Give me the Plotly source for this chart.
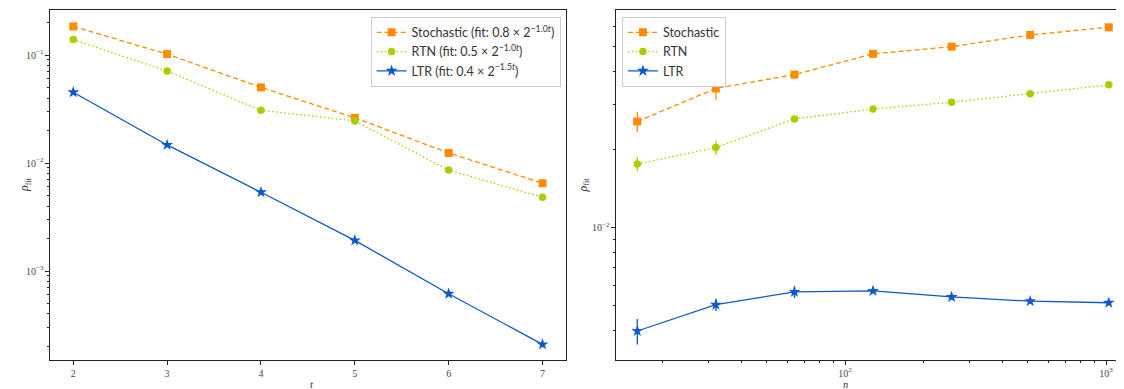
import plotly.graph_objects as go

# ---- data: left panel (vs t) ----
t_vals = [2, 3, 4, 5, 6, 7]
stoch_t = [0.184, 0.102, 0.0502, 0.0262, 0.0124, 0.00650]
rtn_t = [0.139, 0.0711, 0.0308, 0.0245, 0.0086, 0.00481]
ltr_t = [0.0452, 0.0147, 0.00536, 0.00192, 0.000616, 0.000209]

# ---- data: right panel (vs n) ----
n_vals = [16, 32, 64, 128, 256, 512, 1024]
stoch_n = [0.0257, 0.0345, 0.0390, 0.0469, 0.0500, 0.0555, 0.0594]
stoch_n_err = [0.0023, 0.0033, 0.0013, 0.0008, 0.0007, 0.0007, 0.0006]
rtn_n = [0.0176, 0.0204, 0.0263, 0.0287, 0.0305, 0.0329, 0.0356]
rtn_n_err = [0.0011, 0.0013, 0.0005, 0.0004, 0.0004, 0.0004, 0.0004]
ltr_n = [0.00399, 0.00504, 0.00565, 0.00570, 0.00540, 0.00520, 0.00513]
ltr_n_err = [0.00045, 0.00027, 0.00030, 0.00012, 0.00010, 0.00010, 0.00010]

names_left = [
    "Stochastic (fit: 0.8 × 2<sup>−1.0<i>t</i></sup>)",
    "RTN (fit: 0.5 × 2<sup>−1.0<i>t</i></sup>)",
    "LTR (fit: 0.4 × 2<sup>−1.5<i>t</i></sup>)",
]
names_right = ["Stochastic", "RTN", "LTR"]

ORANGE = "#FF8C00"
GREEN = "#A6CE00"
BLUE = "#0A58CA"

styles = [
    dict(color=ORANGE, dash="5px,3px", symbol="square", size=8),
    dict(color=GREEN, dash="1.5px,2.5px", symbol="circle", size=7.5),
    dict(color=BLUE, dash="solid", symbol="star", size=9),
]

fig = go.Figure()

for name, ys, st in zip(names_left, [stoch_t, rtn_t, ltr_t], styles):
    fig.add_trace(go.Scatter(
        x=t_vals, y=ys, name=name, mode="lines+markers",
        line=dict(color=st["color"], dash=st["dash"], width=1.3),
        marker=dict(symbol=st["symbol"], size=st["size"], color=st["color"], line=dict(width=0)),
        xaxis="x", yaxis="y", legend="legend",
    ))

for name, ys, es, st in zip(names_right, [stoch_n, rtn_n, ltr_n],
                            [stoch_n_err, rtn_n_err, ltr_n_err], styles):
    fig.add_trace(go.Scatter(
        x=n_vals, y=ys, name=name, mode="lines+markers",
        line=dict(color=st["color"], dash=st["dash"], width=1.3),
        marker=dict(symbol=st["symbol"], size=st["size"], color=st["color"], line=dict(width=0)),
        error_y=dict(type="data", array=es, visible=True, color=st["color"], thickness=1.3, width=0),
        xaxis="x2", yaxis="y2", legend="legend2",
    ))

SERIF = "Liberation Serif, DejaVu Serif, serif"
SANS = "Lato, Open Sans, sans-serif"
AX = "#222222"

def minor_vals(lo_exp, hi_exp):
    out = []
    for e in range(lo_exp, hi_exp + 1):
        for m in range(2, 10):
            out.append(m * 10.0 ** e)
    return out

common_axis = dict(
    showline=True, linecolor=AX, linewidth=1.2, mirror=True,
    ticks="outside", ticklen=3.5, tickwidth=0.8, tickcolor=AX,
    showgrid=False, zeroline=False,
    tickfont=dict(family=SERIF, size=10, color="#444"),
)

fig.update_layout(
    width=1116, height=381,
    margin=dict(l=42, r=2, t=2, b=29),
    paper_bgcolor="white", plot_bgcolor="white",
    xaxis=dict(domain=[0, 0.4813], range=[1.752, 7.25],
               tickvals=t_vals, ticktext=[str(v) for v in t_vals],
               anchor="y", **common_axis),
    yaxis=dict(type="log", range=[-3.824, -0.583], anchor="x",
               tickvals=[1e-3, 1e-2, 1e-1],
               ticktext=["10<sup>−3</sup>", "10<sup>−2</sup>", "10<sup>−1</sup>"],
               minor=dict(tickvals=minor_vals(-4, -1), ticks="outside", ticklen=2,
                          tickcolor=AX, tickwidth=0.7),
               **common_axis),
    xaxis2=dict(domain=[0.528, 1.0], type="log", range=[1.1226, 3.061], anchor="y2",
                tickvals=[100, 1000],
                ticktext=["10<sup>2</sup>", "10<sup>3</sup>"],
                minor=dict(tickvals=minor_vals(1, 2), ticks="outside", ticklen=2,
                           tickcolor=AX, tickwidth=0.7),
                **common_axis),
    yaxis2=dict(type="log", range=[-2.511, -1.1595], anchor="x2",
                tickvals=[1e-2], ticktext=["10<sup>−2</sup>"],
                minor=dict(tickvals=minor_vals(-3, -2), ticks="outside", ticklen=2,
                           tickcolor=AX, tickwidth=0.7),
                **common_axis),
    legend=dict(x=0.4813 - 0.005, xanchor="right", y=0.981, yanchor="top",
                bgcolor="white", bordercolor="#cccccc", borderwidth=1,
                font=dict(family=SANS, size=12.5, color="#333"),
                itemwidth=30, tracegroupgap=0),
    legend2=dict(x=0.5335, xanchor="left", y=0.981, yanchor="top",
                 bgcolor="white", bordercolor="#cccccc", borderwidth=1,
                 font=dict(family=SANS, size=12.5, color="#333"),
                 itemwidth=30, tracegroupgap=0),
    showlegend=True,
)

# axis titles
fig.add_annotation(text="<i>ρ</i><sub>fit</sub>", xref="paper", yref="paper",
                   x=-0.0326, y=0.5, textangle=-90, showarrow=False,
                   font=dict(family=SERIF, size=12, color="#333"))
fig.add_annotation(text="<i>ρ</i><sub>fit</sub>", xref="paper", yref="paper",
                   x=0.4977, y=0.5, textangle=-90, showarrow=False,
                   font=dict(family=SERIF, size=12, color="#333"))
fig.add_annotation(text="<i>t</i>", xref="paper", yref="paper",
                   x=0.2406, y=-0.069, yanchor="middle", showarrow=False,
                   font=dict(family=SERIF, size=10.5, color="#333"))
fig.add_annotation(text="<i>n</i>", xref="paper", yref="paper",
                   x=0.746, y=-0.069, yanchor="middle", showarrow=False,
                   font=dict(family=SERIF, size=10.5, color="#333"))

fig.write_html("out.html")
